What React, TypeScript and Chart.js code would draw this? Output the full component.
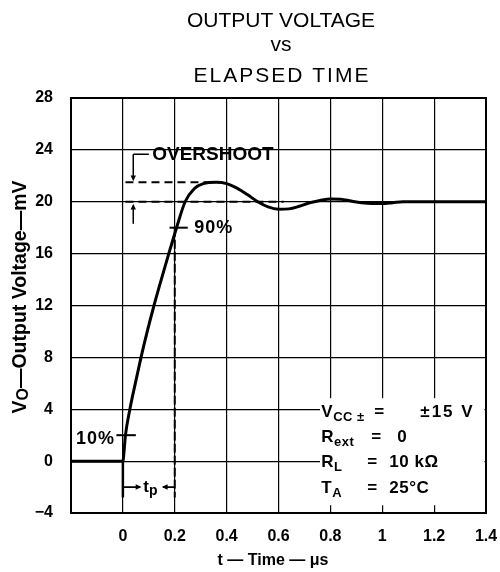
import React, { useEffect, useRef } from "react";
import { Chart, registerables } from "chart.js";

Chart.register(...registerables);

// ---- data ----
const timeUs = [
  -0.2, 0, 0.002, 0.01, 0.027, 0.048, 0.07, 0.094, 0.12, 0.148, 0.177, 0.207, 0.24,
  0.275, 0.31, 0.36, 0.4, 0.44, 0.48, 0.52, 0.56, 0.6, 0.64, 0.68, 0.72, 0.76, 0.8,
  0.84, 0.88, 0.92, 0.96, 1.0, 1.04, 1.08, 1.12, 1.4,
];
const outputMv = [
  0, 0, 0.2, 2, 4, 6, 8, 10, 12, 14, 16, 18, 20,
  21.0, 21.4, 21.5, 21.4, 21.05, 20.55, 20.0, 19.6, 19.42, 19.45, 19.65, 19.92, 20.1, 20.22,
  20.2, 20.05, 19.92, 19.86, 19.86, 19.93, 20.0, 20.0, 20.0,
];
const xRange = [-0.2, 1.4];
const xStep = 0.2;
const yRange = [-4, 28];
const yStep = 4;
const titleLines = ["OUTPUT VOLTAGE", "vs", "ELAPSED TIME"];
const overshootLevel = 21.5;
const finalLevel = 20;
const level90 = 18;
const level10 = 2;
const tpEnd = 0.2;
const conditionLhs = ["V", "R", "R", "T"];
const conditionSub = ["CC ±", "ext", "L", "A"];
const conditionRhs = ["±15 V", "0", "10 kΩ", "25°C"];

const FONT = '"Liberation Sans", Arial, Helvetica, sans-serif';

type Part = { t: string; size: number; dy: number; weight?: string };

function drawRich(ctx: CanvasRenderingContext2D, x: number, y: number, parts: Part[]) {
  let cx = x;
  for (const p of parts) {
    ctx.font = `${p.weight ?? "bold"} ${p.size}px ${FONT}`;
    ctx.fillText(p.t, cx, y + p.dy);
    cx += ctx.measureText(p.t).width;
  }
  return cx;
}

function richWidth(ctx: CanvasRenderingContext2D, parts: Part[]) {
  let w = 0;
  for (const p of parts) {
    ctx.font = `${p.weight ?? "bold"} ${p.size}px ${FONT}`;
    w += ctx.measureText(p.t).width;
  }
  return w;
}

function setSpacing(ctx: any, s: string) {
  if ("letterSpacing" in ctx) ctx.letterSpacing = s;
}

function arrowHead(ctx: CanvasRenderingContext2D, x: number, y: number, dir: "up" | "down" | "left" | "right", s = 5) {
  ctx.beginPath();
  if (dir === "down") { ctx.moveTo(x, y); ctx.lineTo(x - s * 0.6, y - s * 1.3); ctx.lineTo(x + s * 0.6, y - s * 1.3); }
  if (dir === "up") { ctx.moveTo(x, y); ctx.lineTo(x - s * 0.6, y + s * 1.3); ctx.lineTo(x + s * 0.6, y + s * 1.3); }
  if (dir === "right") { ctx.moveTo(x, y); ctx.lineTo(x - s * 1.3, y - s * 0.6); ctx.lineTo(x - s * 1.3, y + s * 0.6); }
  if (dir === "left") { ctx.moveTo(x, y); ctx.lineTo(x + s * 1.3, y - s * 0.6); ctx.lineTo(x + s * 1.3, y + s * 0.6); }
  ctx.closePath();
  ctx.fill();
}

const annotationPlugin = {
  id: "datasheetAnnotations",
  beforeDatasetsDraw(chart: any) {
    const { ctx, scales, chartArea } = chart;
    const X = (v: number) => scales.x.getPixelForValue(v);
    const Y = (v: number) => scales.y.getPixelForValue(v);
    ctx.save();
    ctx.fillStyle = "#fff";
    const left = X(0.76);
    const top = Y(4.85);
    ctx.fillRect(left, top, chartArea.right - 1.5 - left, Y(-3.4) - top);
    ctx.restore();
  },
  afterDatasetsDraw(chart: any) {
    const { ctx, scales, chartArea } = chart;
    const X = (v: number) => scales.x.getPixelForValue(v);
    const Y = (v: number) => scales.y.getPixelForValue(v);
    ctx.save();
    ctx.strokeStyle = "#000";
    ctx.fillStyle = "#000";
    ctx.lineCap = "butt";

    // dashed overshoot / final level lines
    ctx.lineWidth = 2;
    ctx.setLineDash([8, 5]);
    ctx.beginPath();
    ctx.moveTo(X(0.01), Y(overshootLevel));
    ctx.lineTo(X(0.33), Y(overshootLevel));
    ctx.moveTo(X(0.01), Y(finalLevel));
    ctx.lineTo(X(0.62), Y(finalLevel));
    ctx.stroke();

    // dashed vertical at tp end
    ctx.setLineDash([9, 3]);
    ctx.beginPath();
    ctx.moveTo(X(tpEnd), Y(level90));
    ctx.lineTo(X(tpEnd), Y(-2.8));
    ctx.stroke();
    ctx.setLineDash([]);

    // solid vertical at t=0 below axis
    ctx.lineWidth = 2.5;
    ctx.beginPath();
    ctx.moveTo(X(0), Y(0));
    ctx.lineTo(X(0), Y(-2.8));
    ctx.stroke();

    // overshoot arrows + leader
    ctx.lineWidth = 1.5;
    const ax = X(0.04);
    ctx.beginPath();
    ctx.moveTo(ax, Y(23.66));
    ctx.lineTo(ax, Y(overshootLevel) - 6);
    ctx.moveTo(ax, Y(23.66));
    ctx.lineTo(X(0.1), Y(23.66));
    ctx.moveTo(ax, Y(18.3));
    ctx.lineTo(ax, Y(finalLevel) + 6);
    ctx.stroke();
    arrowHead(ctx, ax, Y(overshootLevel) - 1, "down", 4.5);
    arrowHead(ctx, ax, Y(finalLevel) + 2, "up", 4.5);

    ctx.textBaseline = "middle";
    ctx.textAlign = "left";
    ctx.font = `bold 19px ${FONT}`;
    ctx.fillText("OVERSHOOT", X(0.113), Y(23.66));

    // 90% tick and label
    ctx.lineWidth = 2;
    ctx.beginPath();
    ctx.moveTo(X(0.18), Y(level90));
    ctx.lineTo(X(0.25), Y(level90));
    ctx.stroke();
    ctx.font = `bold 18px ${FONT}`;
    setSpacing(ctx, "1px");
    ctx.fillText("90%", X(0.275), Y(level90 - 0.05));

    // 10% tick and label
    ctx.beginPath();
    ctx.moveTo(X(-0.025), Y(level10));
    ctx.lineTo(X(0.05), Y(level10));
    ctx.stroke();
    ctx.textAlign = "right";
    ctx.fillText("10%", X(-0.03), Y(1.7));
    ctx.textAlign = "left";
    setSpacing(ctx, "0px");

    // tp dimension
    const ty = Y(-2.0);
    ctx.lineWidth = 1.8;
    ctx.beginPath();
    ctx.moveTo(X(0), ty);
    ctx.lineTo(X(0.065), ty);
    ctx.moveTo(X(0.155), ty);
    ctx.lineTo(X(tpEnd), ty);
    ctx.stroke();
    arrowHead(ctx, X(0.072), ty, "right", 4.5);
    arrowHead(ctx, X(0.15), ty, "left", 4.5);
    ctx.textBaseline = "alphabetic";
    drawRich(ctx, X(0.079), ty + 5, [
      { t: "t", size: 17, dy: 0 },
      { t: "p", size: 14, dy: 3 },
    ]);

    // test conditions
    const lineY = [3.9, 1.95, 0, -2.0];
    const eqCol = [53, 50, 46, 46];
    const rhsCol = [99, 76, 68, 68];
    const x0 = X(0.765);
    setSpacing(ctx, "0.5px");
    for (let i = 0; i < conditionLhs.length; i++) {
      const base = Y(lineY[i]) + 6;
      drawRich(ctx, x0, base, [
        { t: conditionLhs[i], size: 17, dy: 0 },
        { t: conditionSub[i], size: 13, dy: 4 },
      ]);
      ctx.font = `bold 17px ${FONT}`;
      ctx.fillText("=", x0 + eqCol[i], base);
      if (i === 0) setSpacing(ctx, "2px");
      ctx.fillText(conditionRhs[i], x0 + rhsCol[i], base);
      setSpacing(ctx, "0.5px");
    }
    setSpacing(ctx, "0px");

    // plot frame
    ctx.lineWidth = 2;
    ctx.strokeRect(chartArea.left, chartArea.top, chartArea.right - chartArea.left, chartArea.bottom - chartArea.top);
    ctx.restore();
  },
  afterDraw(chart: any) {
    const { ctx } = chart;
    ctx.save();
    ctx.fillStyle = "#000";
    ctx.textAlign = "center";
    ctx.textBaseline = "alphabetic";
    const cx = 281;
    ctx.font = `normal 21px ${FONT}`;
    ctx.fillText(titleLines[0], cx, 27);
    ctx.font = `normal 21px ${FONT}`;
    ctx.fillText(titleLines[1], cx, 51);
    ctx.font = `normal 21px ${FONT}`;
    setSpacing(ctx, "2px");
    ctx.fillText(titleLines[2], cx + 1, 82);
    setSpacing(ctx, "0px");

    // x axis title
    ctx.textAlign = "left";
    const xParts: Part[] = [{ t: "t — Time — μs", size: 16, dy: 0 }];
    const xw = richWidth(ctx, xParts);
    drawRich(ctx, 273 - xw / 2, 565, xParts);

    // y axis title (rotated)
    const yParts: Part[] = [
      { t: "V", size: 19.5, dy: 0 },
      { t: "O", size: 16, dy: 2 },
      { t: "—Output Voltage—mV", size: 19.5, dy: 0 },
    ];
    const yw = richWidth(ctx, yParts);
    ctx.translate(26, 297);
    ctx.rotate(-Math.PI / 2);
    drawRich(ctx, -yw / 2, 0, yParts);
    ctx.restore();
  },
};

export default function App() {
  const ref = useRef<HTMLCanvasElement | null>(null);
  useEffect(() => {
    if (!ref.current) return;
    const tickFont = { family: FONT, size: 16, weight: "bold" as const };
    const chart = new Chart(ref.current, {
      type: "line",
      data: {
        datasets: [
          {
            data: timeUs.map((t, i) => ({ x: t, y: outputMv[i] })),
            borderColor: "#000",
            borderWidth: 3,
            pointRadius: 0,
            fill: false,
            cubicInterpolationMode: "monotone",
          },
        ],
      },
      options: {
        animation: false,
        responsive: false,
        devicePixelRatio: 1,
        layout: { padding: { top: 98, right: 14, left: 0, bottom: 0 } },
        plugins: {
          legend: { display: false },
          tooltip: { enabled: false },
          title: { display: false },
        },
        scales: {
          x: {
            type: "linear",
            min: xRange[0],
            max: xRange[1],
            ticks: {
              stepSize: xStep,
              color: "#000",
              font: tickFont,
              padding: 0,
              maxRotation: 0,
              autoSkip: false,
              callback: (v: any) => (Number(v) < -0.1 ? "" : String(Number(Number(v).toFixed(1)))),
            },
            grid: { color: "#000", lineWidth: 1.2, drawTicks: true, tickLength: 14, tickColor: "rgba(0,0,0,0)" },
            border: { color: "#000", width: 2 },
            afterFit: (s: any) => { s.height = 59; },
          },
          y: {
            type: "linear",
            min: yRange[0],
            max: yRange[1],
            ticks: {
              stepSize: yStep,
              color: "#000",
              font: tickFont,
              padding: 18,
              autoSkip: false,
              callback: (v: any) => (Number(v) < 0 ? "−" + Math.abs(Number(v)) : String(v)),
            },
            grid: { color: "#000", lineWidth: 1.2, drawTicks: false },
            border: { color: "#000", width: 2 },
            afterFit: (s: any) => { s.width = 71; },
          },
        },
      },
      plugins: [annotationPlugin],
    });
    return () => chart.destroy();
  }, []);
  return (
    <div style={{ position: "fixed", left: 0, top: 0, width: 500, height: 572, background: "#fff" }}>
      <canvas ref={ref} width={500} height={572} style={{ display: "block" }} />
    </div>
  );
}
